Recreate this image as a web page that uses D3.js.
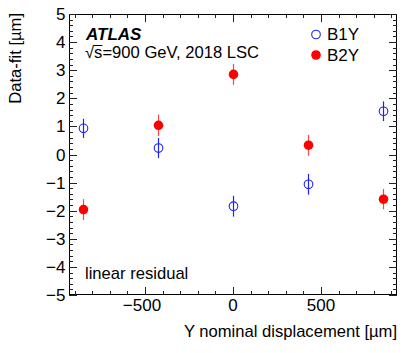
<!DOCTYPE html>
<html><head><meta charset="utf-8">
<script src="https://cdn.jsdelivr.net/npm/d3@7"></script>
<style>body{margin:0;background:#fff}text{font-family:"Liberation Sans",Arial,sans-serif;fill:#000}</style>
</head><body><svg id="c" width="414" height="353"></svg>
<script>
const xPositions = [-850, -425, 0, 425, 850];
const b1yValues = [0.93, 0.23, -1.84, -1.06, 1.54];
const b1yErrors = [0.34, 0.36, 0.37, 0.37, 0.35];
const b2yValues = [-1.96, 1.04, 2.85, 0.33, -1.59];
const b2yErrors = [0.37, 0.38, 0.37, 0.37, 0.36];
const xTicks = [-500, 0, 500];
const yTicks = [-5, -4, -3, -2, -1, 0, 1, 2, 3, 4, 5];
const seriesNames = ["B1Y", "B2Y"];

const L = 69, R = 397, T = 14, B = 295;
const svg = d3.select("#c");
const x = d3.scaleLinear().domain([-932, 932]).range([L, R]);
const y = d3.scaleLinear().domain([-5, 5]).range([B, T]);

// frame
svg.append("rect").attr("x", L + 0.5).attr("y", T + 0.5).attr("width", R - L - 1).attr("height", B - T - 1)
  .attr("fill", "none").attr("stroke", "#000").attr("stroke-width", 1);

const g = svg.append("g").attr("stroke", "#222").attr("stroke-width", 1);
const yMinor = d3.range(-5, 5.0001, 0.2).map(v => Math.round(v * 10) / 10);
yMinor.forEach(v => {
  const major = Math.abs(v - Math.round(v)) < 1e-6;
  const len = major ? 8 : 4;
  const yy = Math.round(y(v)) + 0.5;
  g.append("line").attr("x1", L).attr("x2", L + len).attr("y1", yy).attr("y2", yy);
  g.append("line").attr("x1", R).attr("x2", R - len).attr("y1", yy).attr("y2", yy);
});
const xMinor = d3.range(-900, 901, 100);
xMinor.forEach(v => {
  const major = v % 500 === 0;
  const len = major ? 8 : 4;
  const xx = Math.round(x(v)) + 0.5;
  g.append("line").attr("x1", xx).attr("x2", xx).attr("y1", B).attr("y2", B - len);
  g.append("line").attr("x1", xx).attr("x2", xx).attr("y1", T).attr("y2", T + len);
});

// tick labels
svg.selectAll(".yl").data(yTicks).enter().append("text")
  .attr("x", 65.5).attr("y", d => y(d) + 6).attr("text-anchor", "end")
  .attr("font-size", 17).text(d => d3.format("")(d));
svg.selectAll(".xl").data(xTicks).enter().append("text")
  .attr("x", d => x(d) - (d < 0 ? 3 : 0)).attr("y", 311).attr("text-anchor", "middle")
  .attr("font-size", 17).text(d => d3.format("")(d));

// axis titles
svg.append("text").attr("x", 397).attr("y", 337).attr("text-anchor", "end").attr("font-size", 16.6)
  .text("Y nominal displacement [µm]");
svg.append("text").attr("transform", "translate(21,13) rotate(-90)").attr("text-anchor", "end").attr("font-size", 16.6)
  .text("Data-fit [µm]");

// labels
svg.append("text").attr("x", 86).attr("y", 39.5).attr("font-size", 17)
  .attr("font-weight", "bold").attr("font-style", "italic").text("ATLAS");
const t2 = svg.append("text").attr("x", 85).attr("y", 58).attr("font-size", 16.6);
t2.append("tspan").text("√");
t2.append("tspan").text("s");
t2.append("tspan").text("=900 GeV, 2018 LSC");
{
  const n = t2.node();
  const x0 = 85 + n.getSubStringLength(0, 1) - 0.5;
  const x1 = 85 + n.getSubStringLength(0, 2);
  svg.append("line").attr("x1", x0).attr("x2", x1).attr("y1", 45.5).attr("y2", 45.5)
    .attr("stroke", "#000").attr("stroke-width", 1);
}
svg.append("text").attr("x", 85).attr("y", 279).attr("font-size", 16.6).text("linear residual");

// data
const b1 = xPositions.map((d, i) => ({x: d, v: b1yValues[i], e: b1yErrors[i]}));
const b2 = xPositions.map((d, i) => ({x: d, v: b2yValues[i], e: b2yErrors[i]}));
const blue = "#2020ff", red = "#ff0000";
svg.append("g").selectAll("line").data(b1).enter().append("line")
  .attr("x1", d => Math.round(x(d.x)) + 0.5).attr("x2", d => Math.round(x(d.x)) + 0.5)
  .attr("y1", d => y(d.v + d.e)).attr("y2", d => y(d.v - d.e)).attr("stroke", blue).attr("stroke-width", 1.2);
svg.append("g").selectAll("circle").data(b1).enter().append("circle")
  .attr("cx", d => Math.round(x(d.x)) + 0.5).attr("cy", d => y(d.v)).attr("r", 4.3)
  .attr("fill", "none").attr("stroke", blue).attr("stroke-width", 1.1);
svg.append("g").selectAll("line").data(b2).enter().append("line")
  .attr("x1", d => Math.round(x(d.x)) + 0.5).attr("x2", d => Math.round(x(d.x)) + 0.5)
  .attr("y1", d => y(d.v + d.e)).attr("y2", d => y(d.v - d.e)).attr("stroke", "#ff4444").attr("stroke-width", 1.2);
svg.append("g").selectAll("circle").data(b2).enter().append("circle")
  .attr("cx", d => Math.round(x(d.x)) + 0.5).attr("cy", d => y(d.v)).attr("r", 4.8)
  .attr("fill", red);

// legend
const leg = svg.append("g");
leg.append("circle").attr("cx", 316).attr("cy", 34.5).attr("r", 4.3).attr("fill", "none").attr("stroke", blue).attr("stroke-width", 1.1);
leg.append("text").attr("x", 327).attr("y", 40).attr("font-size", 17).text(seriesNames[0]);
leg.append("circle").attr("cx", 316).attr("cy", 55).attr("r", 4.8).attr("fill", red);
leg.append("text").attr("x", 327).attr("y", 61).attr("font-size", 17).text(seriesNames[1]);
</script></body></html>
